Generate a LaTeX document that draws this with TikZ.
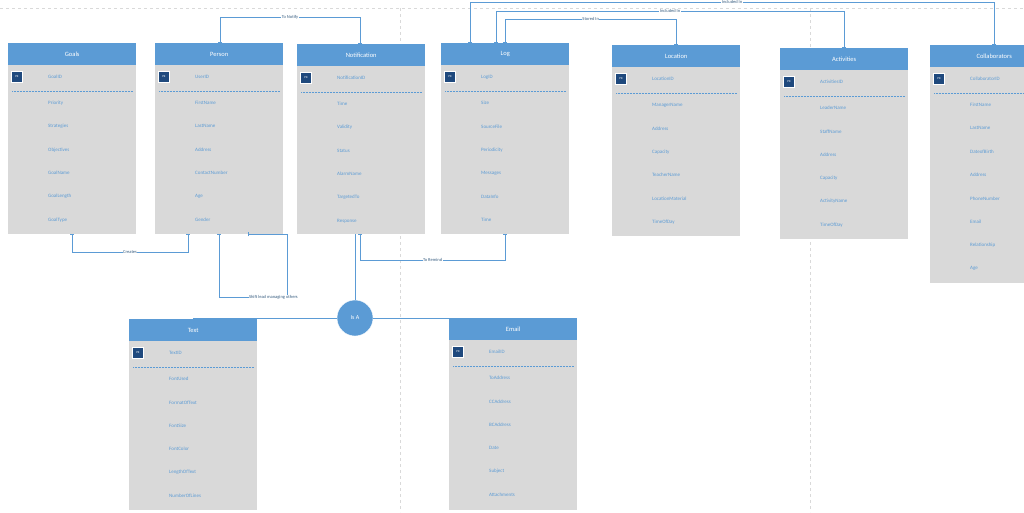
\documentclass[tikz,border=0pt]{standalone}
\usepackage{fontspec}
\setmainfont{Carlito}
\usepackage{xcolor}
\usetikzlibrary{calc,arrows.meta}
\definecolor{hdblue}{RGB}{91,155,213}
\definecolor{pkblue}{RGB}{31,73,125}
\definecolor{bodygray}{RGB}{217,217,217}

\tikzset{
  entbody/.style = {rectangle, fill = bodygray, anchor = north west, minimum width = 128pt, inner sep = 0pt},
  enthead/.style = {rectangle, fill = hdblue, anchor = north, minimum width = 128pt, minimum height = 22pt, inner sep = 0pt, text = white, font = \fontsize{6.5}{7}\selectfont},
  pkbox/.style = {rectangle, fill = pkblue, draw = white, minimum size = 11pt, inner sep = 0pt, text = white, font = \fontsize{3}{3}\selectfont},
  field/.style = {anchor = west, inner sep = 0pt, text = hdblue, font = \fontsize{5}{6}\selectfont},
  rel/.style = {draw = hdblue, line width = 0.6pt, {Bar[width=4pt]}-{Bar[width=4pt]}},
  rellabel/.style = {fill = white, inner sep = 0.5pt, text = hdblue!60!black, font = \fontsize{4.5}{5}\selectfont},
  guide/.style = {draw = black!15, dashed, line width = 0.6pt}
}

% #1 name, #2 x, #3 y, #4 title, #5 key, #6 height, #7 fields
\newcommand\entity[7]{
  \node[entbody, minimum height = #6] (#1) at (#2, #3) {};
  \node[enthead] (#1-h) at (#1.north) {#4};
  \node[pkbox] (#1-pk) at ($(#1.north west) + (9, 34)$) {PK};
  \node[field] at ($(#1.north west) + (40, 34)$) {#5};
  \draw[hdblue, densely dotted, line width = 0.5pt] ($(#1.north west) + (4, 48)$) -- ($(#1.north east) + (-4, 48)$);
  \foreach \f [count = \i] in {#7}
    \node[field] at ($(#1.north west) + (40, {36.6 + 23.4*\i})$) {\f};
}

\begin{document}
\begin{tikzpicture}[x = 1pt, y = -1pt]
    \useasboundingbox (0, 0) rectangle (1024, 512);
    % page guides
    \draw[guide] (0, 8) -- (1024, 8);
    \draw[guide] (400, 8) -- (400, 512);
    \draw[guide] (810, 8) -- (810, 512);

    \entity{goals}{8}{43}{Goals}{GoalID}{191pt}{Priority, Strategies, Objectives, GoalName, GoalLength, GoalType}
    \entity{person}{155}{43}{Person}{UserID}{191pt}{FirstName, LastName, Address, ContactNumber, Age, Gender}
    \entity{notif}{297}{44}{Notification}{NotificationID}{190pt}{Time, Validity, Status, AlarmName, TargetedTo, Response}
    \entity{log}{441}{43}{Log}{LogID}{191pt}{Size, SourceFile, Periodicity, Messages, DataInfo, Time}
    \entity{location}{612}{45}{Location}{LocationID}{191pt}{ManagerName, Address, Capacity, TeacherName, LocationMaterial, TimeOfDay}
    \entity{activities}{780}{48}{Activities}{ActivitiesID}{191pt}{LeaderName, StaffName, Address, Capacity, ActivityName, TimeOfDay}
    \entity{collab}{930}{45}{Collaborators}{CollaboratorID}{238pt}{FirstName, LastName, DateofBirth, Address, PhoneNumber, Email, Relationship, Age}
    \entity{text}{129}{319}{Text}{TextID}{191pt}{FontUsed, FormatOfText, FontSize, FontColor, LengthOfText, NumberOfLines}
    \entity{email}{449}{318}{Email}{EmailID}{192pt}{ToAddress, CCAddress, BCAddress, Date, Subject, Attachments}

    \node[circle, fill = hdblue, draw = white, minimum size = 36pt, inner sep = 0pt, text = white, font = \fontsize{6}{7}\selectfont] (isa) at (355, 318) {Is A};

    % relations
    \draw[rel] ($(person.north west) + (65, 0)$) -- ++(0, -26) -| node[rellabel, pos = 0.25] {To Notify} ($(notif.north west) + (63, 0)$);
    \draw[rel] ($(log.north west) + (29, 0)$) -- ++(0, -41) -| node[rellabel, pos = 0.25] {Included In} (collab.north);
    \draw[rel] ($(log.north west) + (55, 0)$) -- ++(0, -32) -| node[rellabel, pos = 0.25] {Included In} (activities.north);
    \draw[rel] (log.north) -- ++(0, -24) -| node[rellabel, pos = 0.25] {Stored In} (location.north);
    \draw[rel] (goals.south) -- ++(0, 18) -| node[rellabel, pos = 0.25] {Creates} ($(person.south west) + (33, 0)$);
    \draw[rel] ($(person.south west) + (93, 0)$) -| ($(person.south west) + (132, 63)$) -- node[rellabel, pos = 0.2] {Shift lead managing others} ($(person.south west) + (64, 63)$) -- ($(person.south west) + (64, 0)$);
    \draw[rel] ($(notif.south west) + (63, 0)$) -- ++(0, 26) -| node[rellabel, pos = 0.25] {To Remind} (log.south);
    \draw[hdblue, line width = 0.6pt] ($(notif.south west) + (58, 0)$) -- (isa.north);
    \draw[hdblue, line width = 0.6pt] (isa.west) -- (isa.west -| text.north) -- (text.north);
    \draw[hdblue, line width = 0.6pt] (isa.east) -- (isa.east -| email.north) -- (email.north);
\end{tikzpicture}
\end{document}
